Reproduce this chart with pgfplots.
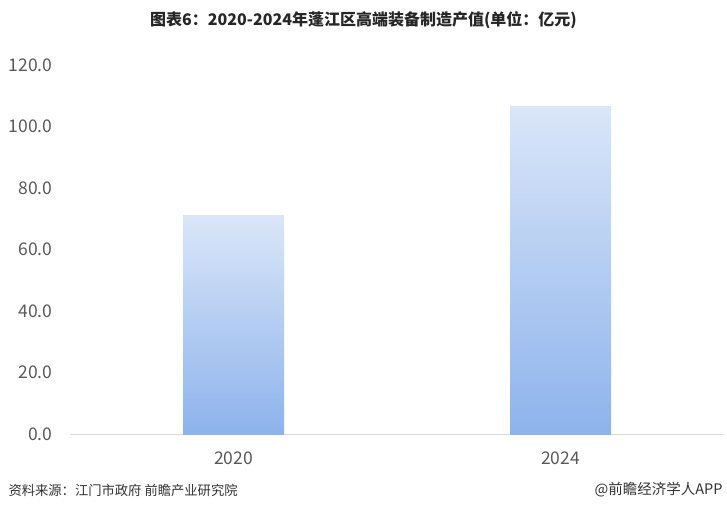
\documentclass[border=0pt]{standalone}
\usepackage{fontspec}
\setmainfont{Noto Sans CJK SC}
\usepackage{pgfplots}
\pgfplotsset{compat=1.18}
\definecolor{axisgray}{HTML}{D9D9D9}
\definecolor{ticktext}{HTML}{595959}
\definecolor{bartop}{HTML}{DAE6F8}
\definecolor{barbot}{HTML}{8DB3EC}
\definecolor{srctext}{HTML}{333333}
\begin{document}
\begin{tikzpicture}[x=1pt,y=1pt]
\path[use as bounding box] (0,0) rectangle (727,512);
\begin{axis}[
  at={(70pt,78pt)}, anchor=south west,
  scale only axis, width=654pt, height=369pt,
  xmin=-0.5, xmax=1.5, ymin=0, ymax=120,
  xtick={0,1}, xticklabels={2020,2024},
  ytick={0,20,...,120},
  axis x line*=bottom, axis y line*=left,
  y axis line style={draw=none},
  x axis line style={draw=axisgray, line width=0.8pt},
  ytick style={draw=none},
  xtick style={draw=none},
  extra x ticks={-0.5,0.5,1.5},
  extra x tick labels={},
  extra x tick style={tick style={draw=axisgray, line width=0.8pt}, major tick length=6pt, tick align=outside},
  /pgf/number format/assume math mode=true,
  yticklabel={\pgfmathprintnumber[fixed,fixed zerofill,precision=1]{\tick}},
  tick label style={font=\fontsize{17.5}{20}\selectfont, text=ticktext},
  yticklabel style={xshift=-14pt},
  xticklabel style={yshift=-14pt},
  clip=false,
]
\addplot[ybar, bar width=101pt, bar shift=0pt, draw=none, top color=bartop, bottom color=barbot]
  coordinates {(0,70.9)};
\addplot[ybar, bar width=101pt, bar shift=0pt, draw=none, top color=bartop, bottom color=barbot]
  coordinates {(1,106.4)};
\end{axis}
\node[font=\bfseries\fontsize{16}{19}\selectfont, text=black!85] at (363.5,492) {图表6：2020-2024年蓬江区高端装备制造产值(单位：亿元)};
\node[anchor=west, font=\fontsize{13.3}{16}\selectfont, text=srctext] at (5,22) {资料来源：江门市政府 前瞻产业研究院};
\node[anchor=east, font=\fontsize{14.5}{17}\selectfont, text=srctext] at (726,22) {@前瞻经济学人APP};
\end{tikzpicture}
\end{document}
